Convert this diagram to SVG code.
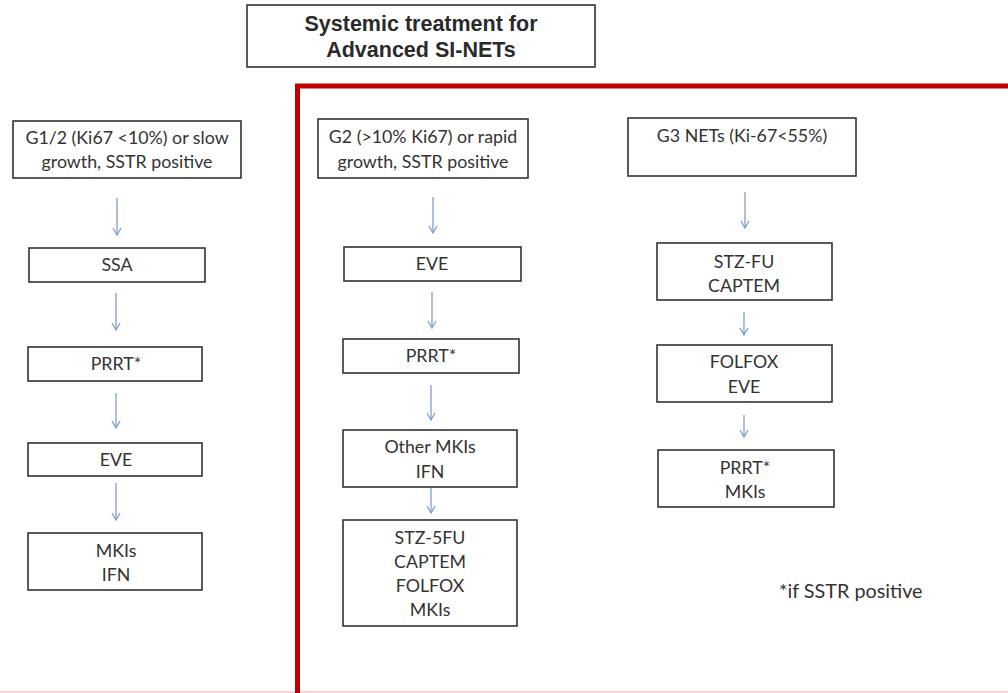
<svg xmlns="http://www.w3.org/2000/svg" width="1008" height="693" viewBox="0 0 1008 693">
<defs>
<style>
.box{fill:#fff;stroke:#333;stroke-width:1.6}
.t{font-family:Lato,"Liberation Sans",sans-serif;font-size:17.8px;fill:#333;text-anchor:middle}
.title{font-family:"Liberation Sans",Arial,sans-serif;font-weight:bold;font-size:21.5px;fill:#2a2a2a;text-anchor:middle}
.arr{stroke:#7f9fcf;stroke-width:1.3;fill:none}
</style>
<marker id="ah" viewBox="0 0 10 10" refX="9" refY="5" markerWidth="10" markerHeight="10" orient="auto" markerUnits="userSpaceOnUse">
<path d="M2,1 L9,5 L2,9" fill="none" stroke="#7f9fcf" stroke-width="1.3"/>
</marker>
</defs>
<rect width="1008" height="693" fill="#fff"/>
<line x1="0" y1="692" x2="1008" y2="692" stroke="#f7c9c9" stroke-width="1.5"/>
<path d="M297.5,693 V86 H1010" fill="none" stroke="#c00000" stroke-width="5"/>

<g id="title">
<rect class="box" x="247" y="5" width="348" height="62"/>
<text class="title" x="421" y="31">Systemic treatment for</text>
<text class="title" x="421" y="57">Advanced SI-NETs</text>
</g>

<g id="g12">
<rect class="box" x="13" y="121" width="228" height="57"/>
<text class="t" x="127" y="144">G1/2 (Ki67 &lt;10%) or slow</text>
<text class="t" x="127" y="168">growth, SSTR positive</text>
</g>
<g id="ssa">
<rect class="box" x="29" y="248" width="176" height="34"/>
<text class="t" x="117" y="271">SSA</text>
</g>
<g id="prrt1">
<rect class="box" x="28" y="347" width="174" height="34"/>
<text class="t" x="116" y="370">PRRT*</text>
</g>
<g id="eve1">
<rect class="box" x="28" y="443" width="174" height="33"/>
<text class="t" x="116" y="466">EVE</text>
</g>
<g id="mkis1">
<rect class="box" x="28" y="533" width="174" height="57"/>
<text class="t" x="116" y="557">MKIs</text>
<text class="t" x="116" y="581">IFN</text>
</g>

<g id="g2">
<rect class="box" x="318" y="119" width="210" height="59"/>
<text class="t" x="423" y="143">G2 (&gt;10% Ki67) or rapid</text>
<text class="t" x="423" y="168">growth, SSTR positive</text>
</g>
<g id="eve2">
<rect class="box" x="344" y="247" width="177" height="34"/>
<text class="t" x="432" y="270">EVE</text>
</g>
<g id="prrt2">
<rect class="box" x="343" y="339" width="176" height="34"/>
<text class="t" x="431" y="362">PRRT*</text>
</g>
<g id="othermkis">
<rect class="box" x="343" y="430" width="174" height="57"/>
<text class="t" x="430" y="453">Other MKIs</text>
<text class="t" x="430" y="478">IFN</text>
</g>
<g id="stz5fu">
<rect class="box" x="343" y="520" width="174" height="106"/>
<text class="t" x="430" y="544">STZ-5FU</text>
<text class="t" x="430" y="568">CAPTEM</text>
<text class="t" x="430" y="592">FOLFOX</text>
<text class="t" x="430" y="616">MKIs</text>
</g>

<g id="g3">
<rect class="box" x="628" y="118" width="228" height="58"/>
<text class="t" x="742" y="142">G3 NETs (Ki-67&lt;55%)</text>
</g>
<g id="stzfu">
<rect class="box" x="657" y="243" width="175" height="57"/>
<text class="t" x="744" y="268">STZ-FU</text>
<text class="t" x="744" y="292">CAPTEM</text>
</g>
<g id="folfox">
<rect class="box" x="657" y="345" width="175" height="57"/>
<text class="t" x="744" y="368">FOLFOX</text>
<text class="t" x="744" y="393">EVE</text>
</g>
<g id="prrtmkis">
<rect class="box" x="658" y="450" width="176" height="57"/>
<text class="t" x="745" y="474">PRRT*</text>
<text class="t" x="745" y="498">MKIs</text>
</g>

<g id="footnote">
<text class="t" x="779" y="598" style="text-anchor:start;font-size:19.8px">*if SSTR positive</text>
</g>

<g id="connectors">
<line class="arr" x1="117" y1="198" x2="117" y2="235" marker-end="url(#ah)"/>
<line class="arr" x1="116" y1="293" x2="116" y2="330" marker-end="url(#ah)"/>
<line class="arr" x1="116" y1="393" x2="116" y2="428" marker-end="url(#ah)"/>
<line class="arr" x1="116" y1="483" x2="116" y2="520" marker-end="url(#ah)"/>
<line class="arr" x1="433" y1="197" x2="433" y2="233" marker-end="url(#ah)"/>
<line class="arr" x1="432" y1="292" x2="432" y2="328" marker-end="url(#ah)"/>
<line class="arr" x1="431" y1="385" x2="431" y2="420" marker-end="url(#ah)"/>
<line class="arr" x1="431" y1="488" x2="431" y2="513" marker-end="url(#ah)"/>
<line class="arr" x1="745" y1="192" x2="745" y2="228" marker-end="url(#ah)"/>
<line class="arr" x1="744" y1="312" x2="744" y2="335" marker-end="url(#ah)"/>
<line class="arr" x1="744" y1="415" x2="744" y2="437" marker-end="url(#ah)"/>
</g>
</svg>
